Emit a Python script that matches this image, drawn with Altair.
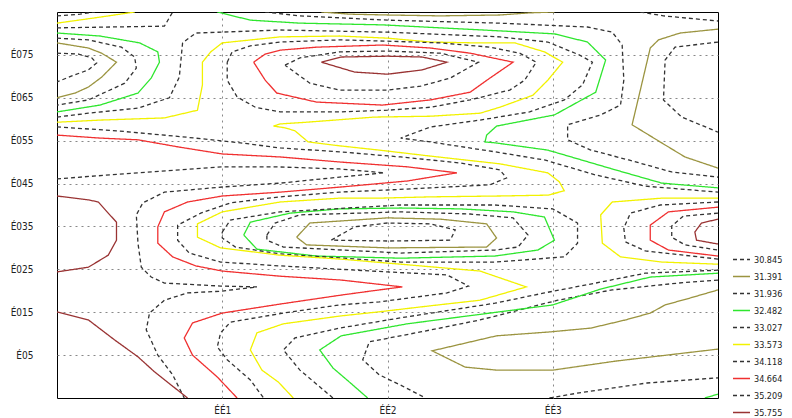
import altair as alt
import pandas as pd

# Contour levels (legend) and their line styles
LEVELS = ["30.845", "31.391", "31.936", "32.482", "33.027",
          "33.573", "34.118", "34.664", "35.209", "35.755"]
LEVEL_COLORS = ["#333333", "#9b9440", "#333333", "#2ee62e", "#333333",
                "#f2f200", "#333333", "#f03030", "#333333", "#993333"]
LEVEL_DASHES = [[4, 3], [1, 0], [4, 3], [1, 0], [4, 3],
                [1, 0], [4, 3], [1, 0], [4, 3], [1, 0]]

X_TICKS = [1, 2, 3]
X_TICK_LABELS = ["ÉÉ1", "ÉÉ2", "ÉÉ3"]
Y_TICKS = [1, 2, 3, 4, 5, 6, 7, 8]
Y_TICK_LABELS = ["É05", "É015", "É025", "É035", "É045", "É055", "É065", "É075"]

# ---- contour polylines (x, y in axis units) ----
# level 35.755
BROWN_TOP = [(1.60, 7.83), (1.72, 7.95), (2.00, 7.97), (2.21, 7.95), (2.36, 7.83),
             (2.21, 7.65), (2.00, 7.55), (1.80, 7.60), (1.60, 7.83)]
BROWN_LEFT = [(0, 4.71), (0.19, 4.62), (0.25, 4.57), (0.31, 4.31), (0.36, 4.10),
              (0.36, 3.68), (0.31, 3.33), (0.19, 3.05), (0, 2.94)]
BROWN_BOTTOM_LEFT = [(0, 2.01), (0.19, 1.82), (0.35, 1.35), (0.49, 0.96), (0.59, 0.61), (0.79, 0)]
BROWN_RIGHT = [(4, 4.17), (3.90, 4.08), (3.86, 3.87), (3.87, 3.68), (4, 3.59)]

# level 34.664
RED_TOP = [(1.19, 7.83), (1.26, 8.02), (1.35, 8.11), (1.57, 8.18), (1.97, 8.23), (2.26, 8.16),
           (2.50, 8.04), (2.76, 7.83), (2.62, 7.46), (2.50, 7.13), (2.26, 6.95), (1.97, 6.83),
           (1.57, 6.90), (1.33, 7.11), (1.26, 7.41), (1.19, 7.83)]
RED_LONG = [(0, 6.13), (0.26, 6.06), (0.49, 6.02), (0.74, 5.85), (1.00, 5.69), (1.35, 5.62),
            (1.72, 5.50), (2.12, 5.39), (2.42, 5.25), (2.12, 5.06), (1.72, 4.92), (1.35, 4.80),
            (1.00, 4.71), (0.79, 4.57), (0.65, 4.34), (0.61, 3.99), (0.61, 3.61), (0.70, 3.29),
            (0.84, 3.08), (1.00, 2.96), (1.35, 2.84), (1.72, 2.75), (2.09, 2.59), (1.95, 2.52),
            (1.72, 2.40), (1.35, 2.19), (1.00, 1.98), (0.82, 1.75), (0.77, 1.40), (0.82, 1.00),
            (0.97, 0.49), (1.09, 0)]
RED_RIGHT = [(4, 4.45), (3.70, 4.34), (3.59, 4.03), (3.59, 3.68), (3.70, 3.45), (4, 3.31)]

# level 33.573
YELLOW_TOP_LEFT = [(0, 8.74), (0.26, 8.88), (0.47, 9.0)]
YELLOW_LONG = [(0, 6.43), (0.26, 6.48), (0.65, 6.53), (0.85, 6.71), (0.88, 7.30), (0.88, 7.83),
               (0.93, 8.07), (1.00, 8.28), (1.35, 8.42), (1.71, 8.44), (2.00, 8.39), (2.26, 8.30),
               (2.53, 8.28), (2.77, 8.28), (2.95, 8.07), (3.06, 7.83), (2.97, 7.41), (2.88, 7.06),
               (2.68, 6.78), (2.56, 6.64), (2.26, 6.57), (1.92, 6.55), (1.51, 6.43), (1.35, 6.39),
               (1.31, 6.34), (1.38, 6.30), (1.44, 6.23), (1.52, 5.97), (1.71, 5.88), (1.95, 5.78),
               (2.26, 5.64), (2.68, 5.46), (2.97, 5.25), (3.04, 5.04), (3.07, 4.83), (2.97, 4.73),
               (2.68, 4.71), (2.26, 4.69), (1.95, 4.66), (1.71, 4.66), (1.35, 4.57), (1.00, 4.34),
               (0.85, 4.06), (0.85, 3.75), (0.99, 3.50), (1.35, 3.33), (1.71, 3.24), (2.08, 3.12),
               (2.56, 2.96), (2.84, 2.59), (2.56, 2.28), (2.26, 2.15), (1.95, 2.01), (1.71, 1.91),
               (1.37, 1.73), (1.21, 1.52), (1.17, 1.12), (1.24, 0.65), (1.34, 0.37), (1.43, 0)]
YELLOW_RIGHT = [(4, 4.66), (3.66, 4.66), (3.36, 4.57), (3.29, 4.27), (3.30, 3.61), (3.41, 3.29),
                (3.66, 3.17), (4, 3.12)]

# level 32.482
GREEN_TOP_LEFT = [(0, 8.51), (0.26, 8.44), (0.50, 8.28), (0.61, 8.07), (0.62, 7.83), (0.57, 7.46),
                  (0.49, 7.11), (0.26, 6.83), (0, 6.67)]
GREEN_TOP = [(0.97, 9.0), (1.17, 8.81), (1.47, 8.74), (1.97, 8.70), (2.32, 8.63), (2.68, 8.56),
             (3.01, 8.49), (3.21, 8.30), (3.32, 7.88), (3.26, 7.13), (3.01, 6.60), (2.66, 6.34),
             (2.60, 6.13), (2.59, 5.97), (2.65, 5.95), (2.97, 5.78), (3.36, 5.34), (3.66, 5.01), (4, 4.90)]
GREEN_MIDDLE = [(1.13, 3.80), (1.17, 4.10), (1.41, 4.31), (1.71, 4.41), (2.08, 4.43), (2.44, 4.41),
                (2.76, 4.34), (2.95, 4.22), (3.01, 3.68), (2.91, 3.45), (2.65, 3.31), (2.08, 3.26),
                (1.57, 3.31), (1.21, 3.47), (1.13, 3.80)]
GREEN_BOTTOM = [(4, 2.91), (3.59, 2.82), (3.29, 2.54), (3.00, 2.17), (2.76, 2.05), (2.44, 1.89),
                (2.12, 1.73), (1.72, 1.45), (1.59, 1.12), (1.67, 0.70), (1.77, 0.37), (1.88, 0)]
GREEN_CORNER = [(3.92, 0), (4, 0.09)]

# level 31.391
OLIVE_TOP_LEFT = [(0, 8.28), (0.19, 8.16), (0.27, 8.04), (0.36, 7.83), (0.27, 7.48), (0.19, 7.25),
                  (0.11, 7.11), (0, 7.00)]
OLIVE_TOP = [(1.60, 9.0), (1.77, 8.95), (2.00, 8.93), (2.32, 8.91), (2.68, 8.93), (2.86, 8.98), (3.01, 9.0)]
OLIVE_TOP_RIGHT = [(4, 8.60), (3.77, 8.51), (3.64, 8.35), (3.59, 8.16), (3.53, 7.18), (3.48, 6.37),
                   (3.65, 5.97), (3.80, 5.62), (4, 5.36)]
OLIVE_MIDDLE = [(1.45, 3.75), (1.53, 4.08), (2.00, 4.20), (2.32, 4.17), (2.60, 4.06), (2.66, 3.73),
                (2.60, 3.52), (2.00, 3.50), (1.51, 3.57), (1.45, 3.75)]
OLIVE_BOTTOM = [(4, 2.52), (3.83, 2.33), (3.68, 2.17), (3.59, 1.98), (3.44, 1.82), (3.23, 1.63),
                (2.98, 1.54), (2.66, 1.45), (2.27, 1.10), (2.47, 0.72), (2.66, 0.65), (3.00, 0.65),
                (3.38, 0.86), (4, 1.14)]

# level 30.845
D0_TOP_LEFT = [(0, 8.04), (0.13, 8.02), (0.21, 7.93), (0.24, 7.81), (0.19, 7.65), (0.09, 7.51), (0, 7.37)]
D0_TOP_RIGHT = [(4, 8.30), (3.74, 8.18), (3.68, 7.88), (3.67, 6.95), (3.78, 6.55), (4, 6.20)]
D0_MIDDLE = [(1.66, 3.68), (1.80, 3.99), (2.00, 4.08), (2.26, 4.06), (2.41, 3.92), (2.38, 3.68),
             (2.00, 3.66), (1.66, 3.68)]

# level 31.936
D2_TOP_LEFT = [(0, 8.39), (0.19, 8.35), (0.39, 8.18), (0.47, 7.95), (0.48, 7.69), (0.41, 7.34),
               (0.19, 6.95), (0, 6.83)]
D2_TOP = [(1.26, 9.0), (1.47, 8.91), (2.00, 8.81), (2.68, 8.74), (3.21, 8.65), (3.36, 8.53),
          (3.42, 8.23), (3.43, 7.41), (3.41, 6.83), (3.29, 6.60), (3.09, 6.37), (3.09, 6.02),
          (3.23, 5.78), (3.46, 5.55), (3.72, 5.27), (4, 5.15)]
D2_MIDDLE = [(1.27, 3.80), (1.32, 4.08), (1.47, 4.27), (2.08, 4.34), (2.50, 4.29), (2.76, 4.20),
             (2.85, 3.80), (2.79, 3.52), (2.65, 3.45), (2.08, 3.38), (1.37, 3.52), (1.27, 3.68), (1.27, 3.80)]
D2_BOTTOM = [(4, 2.75), (3.76, 2.68), (3.36, 2.52), (3.03, 2.28), (2.56, 1.82), (2.20, 1.54),
             (1.89, 1.31), (1.85, 0.89), (1.95, 0.54), (2.08, 0.30), (2.23, 0)]
D2_BOTTOM_RIGHT = [(2.98, 0), (3.16, 0.12), (3.57, 0.35), (4, 0.47)]
D2_CORNER = [(3.53, 9.0), (3.67, 8.91), (4, 8.79)]

# level 33.027
D4_TOP_LEFT = [(0, 8.63), (0.65, 8.67), (0.70, 9.0)]
D4_LONG = [(0, 6.55), (0.19, 6.64), (0.49, 6.76), (0.68, 7.00), (0.74, 7.48), (0.76, 8.28),
           (0.84, 8.51), (1.35, 8.58), (2.00, 8.53), (2.68, 8.42), (2.97, 8.30), (3.16, 8.00),
           (3.24, 7.83), (3.18, 7.30), (3.07, 6.95), (2.86, 6.67), (2.56, 6.48), (2.26, 6.32),
           (2.08, 6.06), (2.26, 5.97), (2.65, 5.74), (2.95, 5.55), (3.26, 5.20), (3.56, 4.94), (4, 4.80)]
D4_MIDDLE = [(1.00, 3.87), (1.05, 4.15), (1.35, 4.34), (2.08, 4.50), (2.65, 4.50), (3.00, 4.41),
             (3.15, 4.08), (3.15, 3.61), (3.07, 3.29), (2.65, 3.17), (2.08, 3.17), (1.35, 3.36),
             (1.08, 3.52), (1.00, 3.73), (1.00, 3.87)]
D4_BOTTOM = [(4, 2.98), (3.56, 2.91), (3.26, 2.68), (2.95, 2.45), (2.65, 2.21), (2.08, 1.87),
             (1.71, 1.63), (1.44, 1.40), (1.37, 1.12), (1.47, 0.65), (1.67, 0)]

# level 34.118
D6_TOP_LEFT = [(0, 8.91), (0.14, 8.95), (0.23, 9.0)]
D6_LONG = [(0, 6.32), (0.36, 6.23), (0.76, 6.09), (1.11, 5.95), (1.35, 5.83), (1.71, 5.74),
           (2.08, 5.62), (2.44, 5.48), (2.68, 5.32), (2.72, 5.13), (2.62, 4.97), (2.26, 4.90),
           (2.00, 4.85), (1.71, 4.80), (1.35, 4.69), (1.05, 4.55), (0.87, 4.31), (0.73, 4.03),
           (0.73, 3.68), (0.80, 3.38), (0.99, 3.17), (1.35, 3.08), (2.00, 2.94), (2.36, 2.87),
           (2.49, 2.61), (2.36, 2.45), (1.95, 2.24), (1.71, 2.17), (1.37, 1.98), (1.05, 1.77),
           (0.99, 1.52), (0.97, 1.19), (1.03, 0.89), (1.17, 0.42), (1.25, 0)]
D6_TOP = [(1.03, 7.83), (1.06, 8.07), (1.17, 8.21), (1.35, 8.30), (1.71, 8.35), (2.00, 8.32),
          (2.32, 8.28), (2.62, 8.18), (2.80, 8.04), (2.90, 7.83), (2.83, 7.41), (2.74, 7.18),
          (2.50, 6.95), (2.26, 6.78), (2.00, 6.71), (1.71, 6.67), (1.35, 6.67), (1.20, 6.78),
          (1.09, 7.02), (1.03, 7.41), (1.03, 7.83)]
D6_RIGHT = [(4, 4.57), (3.65, 4.50), (3.47, 4.31), (3.43, 3.96), (3.44, 3.64), (3.56, 3.43), (4, 3.24)]

# level 35.209
D8_TOP = [(1.38, 7.76), (1.47, 7.93), (1.71, 8.07), (2.00, 8.09), (2.32, 8.04), (2.55, 7.83),
          (2.38, 7.46), (2.20, 7.27), (2.00, 7.18), (1.71, 7.18), (1.53, 7.34), (1.38, 7.76)]
D8_LEFT = [(0, 5.11), (0.49, 5.25), (1.00, 5.39), (1.32, 5.39), (1.71, 5.34), (1.98, 5.25),
           (1.71, 5.15), (1.35, 5.01), (1.00, 4.92), (0.65, 4.80), (0.52, 4.55), (0.48, 4.27),
           (0.49, 3.61), (0.51, 3.05), (0.57, 2.82), (0.65, 2.68), (0.99, 2.61), (1.21, 2.59),
           (0.99, 2.49), (0.79, 2.45), (0.65, 2.28), (0.56, 1.98), (0.54, 1.59), (0.61, 1.00),
           (0.70, 0.54), (0.77, 0)]
D8_RIGHT = [(4, 4.31), (3.79, 4.24), (3.72, 4.01), (3.72, 3.75), (3.80, 3.57), (4, 3.45)]

CONTOURS = [
    ("30.845", D0_TOP_LEFT), ("30.845", D0_TOP_RIGHT), ("30.845", D0_MIDDLE),
    ("31.391", OLIVE_TOP_LEFT), ("31.391", OLIVE_TOP), ("31.391", OLIVE_TOP_RIGHT),
    ("31.391", OLIVE_MIDDLE), ("31.391", OLIVE_BOTTOM),
    ("31.936", D2_TOP_LEFT), ("31.936", D2_TOP), ("31.936", D2_MIDDLE),
    ("31.936", D2_BOTTOM), ("31.936", D2_BOTTOM_RIGHT), ("31.936", D2_CORNER),
    ("32.482", GREEN_TOP_LEFT), ("32.482", GREEN_TOP), ("32.482", GREEN_MIDDLE),
    ("32.482", GREEN_BOTTOM), ("32.482", GREEN_CORNER),
    ("33.027", D4_TOP_LEFT), ("33.027", D4_LONG), ("33.027", D4_MIDDLE), ("33.027", D4_BOTTOM),
    ("33.573", YELLOW_TOP_LEFT), ("33.573", YELLOW_LONG), ("33.573", YELLOW_RIGHT),
    ("34.118", D6_TOP_LEFT), ("34.118", D6_LONG), ("34.118", D6_TOP), ("34.118", D6_RIGHT),
    ("34.664", RED_TOP), ("34.664", RED_LONG), ("34.664", RED_RIGHT),
    ("35.209", D8_TOP), ("35.209", D8_LEFT), ("35.209", D8_RIGHT),
    ("35.755", BROWN_TOP), ("35.755", BROWN_LEFT), ("35.755", BROWN_BOTTOM_LEFT), ("35.755", BROWN_RIGHT),
]

rows = []
for i, (lvl, pts) in enumerate(CONTOURS):
    for j, (xv, yv) in enumerate(pts):
        rows.append({"level": lvl, "line": i, "order": j, "x": xv, "y": yv})
df = pd.DataFrame(rows)

FONT = "Liberation Sans Narrow, DejaVu Sans Condensed, Liberation Sans, sans-serif"

x_label_expr = "[" + ",".join(["''"] + ["'" + s + "'" for s in X_TICK_LABELS]) + "][datum.value]"
y_label_expr = "[" + ",".join(["''"] + ["'" + s + "'" for s in Y_TICK_LABELS]) + "][datum.value]"

legend = alt.Legend(orient="none", legendX=675, legendY=239, symbolType="stroke",
                    symbolSize=289, symbolStrokeWidth=1.5, rowPadding=0, clipHeight=17,
                    labelOffset=3, padding=0, labelFont=FONT, labelFontSize=9,
                    labelColor="#222222")

chart = alt.Chart(df).mark_line(strokeWidth=1.3, clip=True).encode(
    x=alt.X("x:Q", title=None,
            scale=alt.Scale(domain=[0, 4], nice=False, zero=False),
            axis=alt.Axis(values=X_TICKS, labelExpr=x_label_expr, grid=True, domain=False,
                          ticks=False, labelPadding=7, labelFont=FONT, labelFontSize=10,
                          labelColor="#222222", gridColor="#888888", gridDash=[2, 4],
                          gridWidth=1)),
    y=alt.Y("y:Q", title=None,
            scale=alt.Scale(domain=[0, 9], nice=False, zero=False),
            axis=alt.Axis(values=Y_TICKS, labelExpr=y_label_expr, grid=True, domain=False,
                          ticks=False, labelPadding=24, labelFont=FONT, labelFontSize=10,
                          labelColor="#222222", gridColor="#888888", gridDash=[2, 4],
                          gridWidth=1)),
    color=alt.Color("level:N", title=None,
                    scale=alt.Scale(domain=LEVELS, range=LEVEL_COLORS), legend=legend),
    strokeDash=alt.StrokeDash("level:N", title=None,
                              scale=alt.Scale(domain=LEVELS, range=LEVEL_DASHES), legend=legend),
    detail="line:N",
    order="order:Q",
).properties(
    width=661, height=386,
    autosize=alt.AutoSizeParams(type="none"),
    padding={"left": 49, "top": 4, "right": 66, "bottom": 20},
    background="white",
).configure_view(stroke="#000000", strokeWidth=1)

chart.save("out.html", embed_options={"renderer": "svg", "actions": False})
